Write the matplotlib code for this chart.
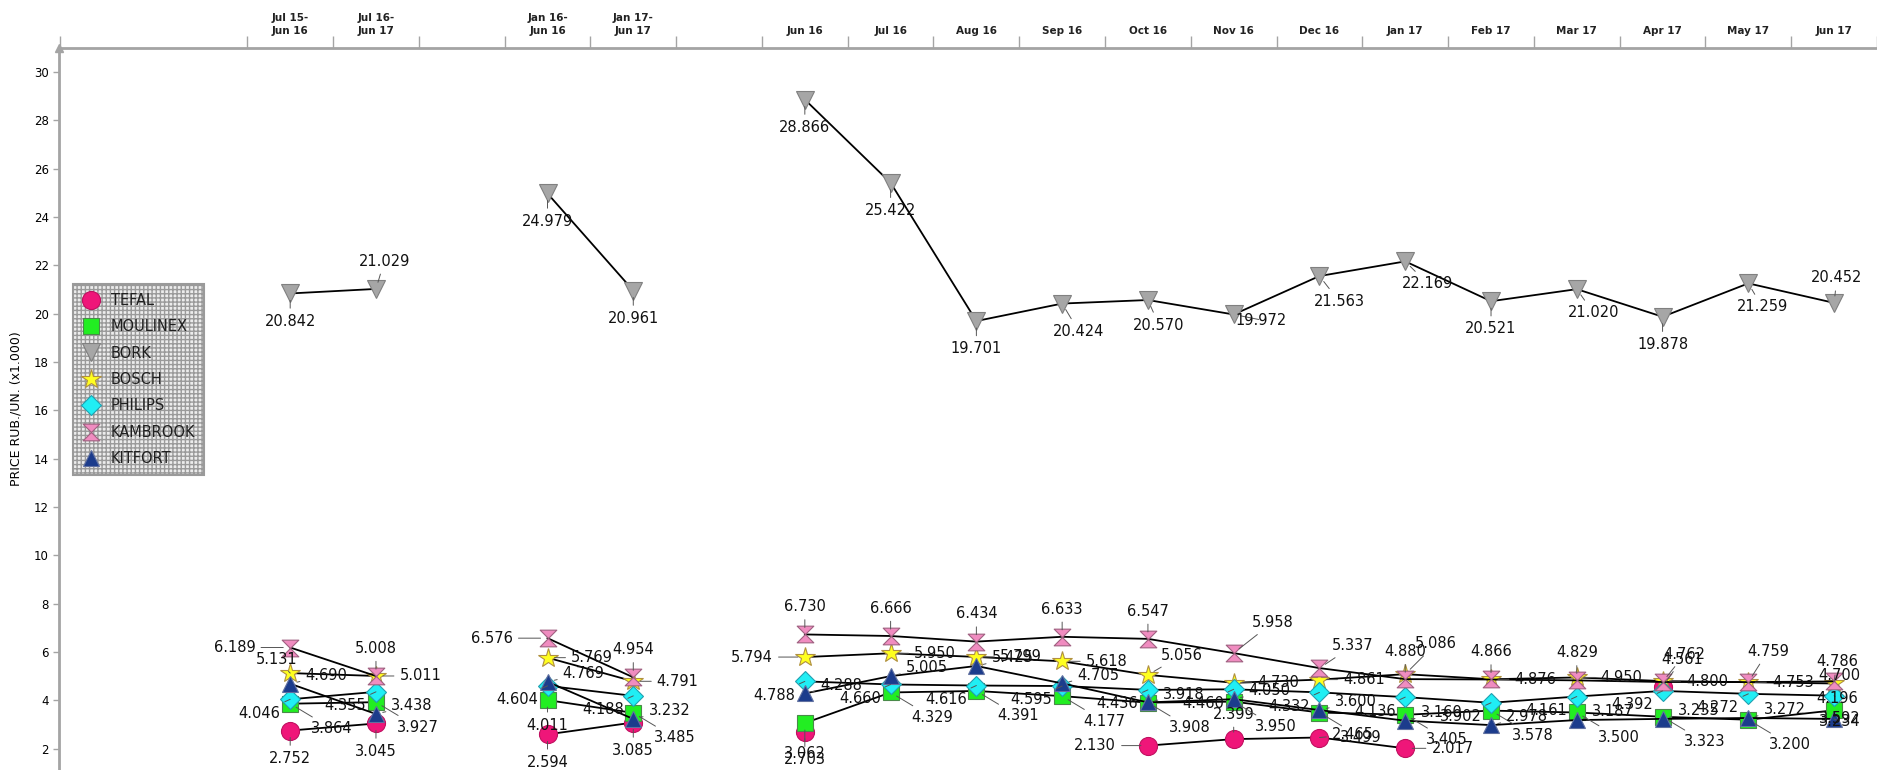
import matplotlib
matplotlib.use("Agg")
import matplotlib.pyplot as plt
import numpy as np
from matplotlib.lines import Line2D
from matplotlib.path import Path

nan = np.nan

# slots: two 12-month groups, gap, two half-year groups, gap, monthly
categories = ["Jul 15-\nJun 16", "Jul 16-\nJun 17", "",
              "Jan 16-\nJun 16", "Jan 17-\nJun 17", "",
              "Jun 16", "Jul 16", "Aug 16", "Sep 16", "Oct 16", "Nov 16", "Dec 16",
              "Jan 17", "Feb 17", "Mar 17", "Apr 17", "May 17", "Jun 17"]

tefal = [2.752, 3.045, nan, 2.594, 3.085, nan,
         2.703, nan, nan, nan, 2.130, 2.399, 2.465, 2.017, nan, nan, 4.561, nan, nan]
moulinex = [3.864, 3.927, nan, 4.011, 3.485, nan,
            3.062, 4.329, 4.391, 4.177, 3.908, 3.950, 3.499, 3.405, 3.578, 3.500, 3.323, 3.200, 3.592]
bork = [20.842, 21.029, nan, 24.979, 20.961, nan,
        28.866, 25.422, 19.701, 20.424, 20.570, 19.972, 21.563, 22.169, 20.521, 21.020, 19.878, 21.259, 20.452]
bosch = [5.131, 5.011, nan, 5.769, 4.791, nan,
         5.794, 5.950, 5.799, 5.618, 5.056, 4.730, 4.861, 5.086, 4.876, 4.950, 4.800, 4.753, 4.700]
philips = [4.046, 4.355, nan, 4.604, 4.188, nan,
           4.788, 4.660, 4.616, 4.595, 4.436, 4.460, 4.332, 4.136, 3.902, 4.161, 4.392, 4.272, 4.196]
kambrook = [6.189, 5.008, nan, 6.576, 4.954, nan,
            6.730, 6.666, 6.434, 6.633, 6.547, 5.958, 5.337, 4.880, 4.866, 4.829, 4.762, 4.759, 4.786]
kitfort = [4.690, 3.438, nan, 4.769, 3.232, nan,
           4.288, 5.005, 5.425, 4.705, 3.918, 4.050, 3.600, 3.160, 2.978, 3.187, 3.235, 3.272, 3.234]

# hourglass marker for KAMBROOK
hourglass = Path([(-1, 1), (1, 1), (-1, -1), (1, -1), (-1, 1)],
                 [Path.MOVETO, Path.LINETO, Path.LINETO, Path.LINETO, Path.CLOSEPOLY])

series = [
    ("TEFAL", tefal, "o", "#ef1679", "#c01060", 13),
    ("MOULINEX", moulinex, "s", "#22ee22", "#4a8a4a", 12),
    ("BORK", bork, "v", "#a6a6a6", "#808080", 13),
    ("BOSCH", bosch, "*", "#ffff20", "#b09040", 15),
    ("PHILIPS", philips, "D", "#20eef4", "#20a0b0", 10),
    ("KAMBROOK", kambrook, hourglass, "#f08cc0", "#a06080", 12),
    ("KITFORT", kitfort, "^", "#1c3c8c", "#6070a0", 12),
]

# label offsets (points) per series, with per-slot overrides
default_off = {"TEFAL": (0, -20), "MOULINEX": (30, -18), "BORK": (0, -20),
               "BOSCH": (32, 0), "PHILIPS": (-22, -10), "KAMBROOK": (0, 20),
               "KITFORT": (26, 6)}
override_off = {
    "TEFAL": {10: (-38, 0), 11: (0, 18), 12: (24, 2), 13: (34, 0), 16: (14, 20)},
    "BORK": {1: (6, 20), 9: (12, -20), 10: (8, -18), 11: (20, -4), 12: (14, -18),
             13: (16, -16), 15: (12, -17), 17: (10, -17), 18: (2, 18)},
    "BOSCH": {0: (-10, 10), 6: (-38, 0), 10: (24, 14), 13: (22, 22), 18: (4, 6)},
    "KAMBROOK": {0: (-40, 0), 3: (-40, 0), 11: (28, 22), 12: (24, 16), 16: (16, 20),
                 17: (14, 22), 18: (2, 14)},
    "MOULINEX": {6: (0, -22), 3: (0, -18), 18: (4, -6)},
    "KITFORT": {18: (4, -2)},
    "PHILIPS": {18: (2, -2)},
}

fig = plt.figure(figsize=(18.77, 7.70), dpi=100)
ax = fig.add_axes([58.6 / 1877, 0, 1 - 58.6 / 1877, 722 / 770])

x = np.arange(len(categories))
for name, vals, mk, fc, ec, ms in series:
    ax.plot(x, vals, color="black", lw=1.3, marker=mk, markersize=ms,
            markerfacecolor=fc, markeredgecolor=ec, markeredgewidth=0.8, zorder=3)

for name, vals, mk, fc, ec, ms in series:
    for i, v in enumerate(vals):
        if np.isnan(v):
            continue
        off = override_off.get(name, {}).get(i, default_off[name])
        ax.annotate(f"{v:.3f}", (i, v), xytext=off, textcoords="offset points",
                    ha="center", va="center", fontsize=10.5, color="#111111",
                    arrowprops=dict(arrowstyle="-", color="#555555", lw=0.7,
                                    shrinkA=2, shrinkB=5), zorder=4)

ax.set_xlim(-2.7, 18.5)
ax.set_ylim(1.12, 31.0)

for s in ["right", "bottom"]:
    ax.spines[s].set_visible(False)
for s in ["top", "left"]:
    ax.spines[s].set_color("#a4a4a4")
    ax.spines[s].set_linewidth(2)

ax.xaxis.tick_top()
ax.set_xticks([-2.68] + list(np.arange(-0.5, 18.6, 1.0)))
ax.set_xticklabels([])
ax.set_xticks(x, minor=True)
ax.set_xticklabels(categories, minor=True, fontsize=7.5, fontweight="bold",
                   color="#222222", linespacing=1.3)
ax.tick_params(axis="x", which="major", length=9, width=1, color="#a4a4a4")
ax.tick_params(axis="x", which="minor", length=0, pad=9)

ax.set_yticks(np.arange(2, 31, 2))
ax.tick_params(axis="y", length=4, width=1, color="#a4a4a4", labelsize=8.5, pad=3)
ax.set_ylabel("PRICE RUB./UN. (x1.000)", fontsize=9, labelpad=8)

ax.plot(0, 1, marker="^", color="#a4a4a4", markersize=6, transform=ax.transAxes,
        clip_on=False, zorder=5)

handles = [Line2D([], [], linestyle="none", marker=mk, markersize=ms,
                  markerfacecolor=fc, markeredgecolor=ec, markeredgewidth=0.8)
           for name, vals, mk, fc, ec, ms in series]
leg = ax.legend(handles, [s[0] for s in series], loc="upper left",
                bbox_to_anchor=(0.008, 0.673), borderaxespad=0, fontsize=10.5,
                labelspacing=0.78, handlelength=1.2, handletextpad=0.8,
                borderpad=0.6, fancybox=False, framealpha=1)
frame = leg.get_frame()
frame.set_facecolor("#ececec")
frame.set_edgecolor("#9a9a9a")
frame.set_hatch("++++")
frame.set_linewidth(1.5)
for t in leg.get_texts():
    t.set_color("#202020")

fig.savefig("out.png", dpi=100)
